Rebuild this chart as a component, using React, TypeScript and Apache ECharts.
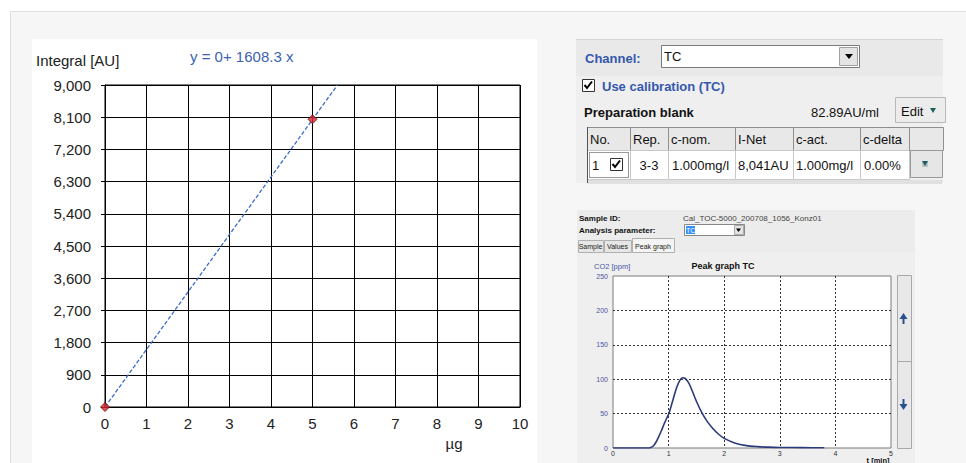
import React, { useEffect, useRef } from "react";
import * as echarts from "echarts";

// ---- data ----
const calibX = [0, 5];
const calibY = [0, 8041];
const fitX = [0, 5.6];
const fitY = [0, 9000];
const equationText = "y = 0+ 1608.3 x";
const leftXTicks = { min: 0, max: 10, step: 1 };
const leftYTicks = { min: 0, max: 9000, step: 900 };

const peakT = [0, 0.5, 0.62, 0.67, 0.72, 0.77, 0.82, 0.87, 0.92, 0.97, 1.0, 1.05, 1.1, 1.15, 1.2, 1.25, 1.3, 1.35, 1.4, 1.5, 1.6, 1.7, 1.8, 1.9, 2.0, 2.2, 2.4, 2.6, 2.8, 3.0, 3.4, 3.8];
const peakV = [0, 0, 0, 0.5, 2.5, 8, 16, 25, 35, 44, 49, 62, 76, 89, 98, 102, 101, 96, 88, 68, 51, 38, 28, 20, 14, 7, 3.5, 2, 1.2, 0.8, 0.5, 0.3];

const tableHeaders = ["No.", "Rep.", "c-nom.", "I-Net", "c-act.", "c-delta", ""];
const tableRow = ["1", "3-3", "1.000mg/l", "8,041AU", "1.000mg/l", "0.00%"];
const channelValue = "TC";
const blankValue = "82.89AU/ml";
const sampleId = "Cal_TOC-5000_200708_1056_Konz01";
const tabs = ["Sample", "Values", "Peak graph"];

const F = "Liberation Sans, Arial, sans-serif";

function txt(x: number, y: number, s: string, size: number, o: any = {}) {
  return {
    type: "text",
    x,
    y,
    z: 20,
    style: {
      text: s,
      font: `${o.bold ? "bold " : ""}${size}px ${F}`,
      fill: o.color || "#111",
      textAlign: o.align || "left",
      textVerticalAlign: "middle",
    },
  };
}
function rect(x: number, y: number, w: number, h: number, fill: string, stroke?: string, z = 1, extra: any = {}) {
  return {
    type: "rect",
    z,
    shape: { x, y, width: w, height: h },
    style: { fill, stroke: stroke || null, lineWidth: 1, ...extra },
  };
}
function poly(points: number[][], fill: string, z = 21) {
  return { type: "polygon", z, shape: { points }, style: { fill } };
}
function check(x: number, y: number) {
  return {
    type: "polyline",
    z: 22,
    shape: { points: [[x + 2.5, y + 6], [x + 5, y + 9], [x + 10, y + 2.5]] },
    style: { stroke: "#000", lineWidth: 2, fill: null },
  };
}

export default function App() {
  const ref = useRef<HTMLDivElement>(null);
  useEffect(() => {
    if (!ref.current) return;
    const chart = echarts.init(ref.current, null, { renderer: "svg" });

    const colEdges = [587, 630, 668, 735, 793, 860, 909, 943];
    const g: any[] = [];
    // page frame
    g.push(rect(10.5, 11.5, 980, 470, "#f6f6f6", "#e0e0e0", 0));
    g.push(rect(32, 39, 505, 440, "#ffffff", undefined, 0));
    // left chart texts
    g.push(txt(36, 60, "Integral [AU]", 15, { color: "#222" }));
    g.push(txt(190, 56, equationText, 15, { color: "#3d62b3" }));
    g.push(txt(454, 443, "µg", 15, { color: "#222", align: "center" }));

    // right top panel
    g.push(rect(576, 39, 367, 144, "#efefef", undefined, 0));
    g.push(rect(576, 39, 367, 37, "#e9e9e9", undefined, 0));
    g.push({ type: "line", z: 1, shape: { x1: 576, y1: 39.5, x2: 943, y2: 39.5 }, style: { stroke: "#d4d4d4" } });
    g.push(txt(585, 58, "Channel:", 13, { bold: true, color: "#3558ae" }));
    g.push(rect(661.5, 45.5, 198, 22, "#ffffff", "#7a7a7a", 5));
    g.push(txt(664, 56, channelValue, 13));
    g.push(rect(839.5, 47.5, 18, 18, "#e4e4e4", "#a0a0a0", 6));
    g.push(poly([[845, 54], [853, 54], [849, 59]], "#000"));
    g.push(rect(582.5, 79.5, 12, 12, "#ffffff", "#333", 6));
    g.push(check(582, 79));
    g.push(txt(602, 86, "Use calibration (TC)", 13, { bold: true, color: "#3558ae" }));
    g.push(txt(584, 112, "Preparation blank", 13, { bold: true }));
    g.push(txt(811, 112, blankValue, 13));
    g.push(rect(895.5, 97.5, 50, 25, "#ececec", "#b8b8b8", 5));
    g.push(txt(901, 111, "Edit", 13));
    g.push(poly([[930, 108], [936, 108], [933, 113]], "#1f5e5e"));
    // table
    for (let i = 0; i < colEdges.length - 1; i++) {
      const x0 = colEdges[i], x1 = colEdges[i + 1];
      g.push(rect(x0 + 0.5, 127.5, x1 - x0, 23, "#e8e8e8", "#8f8f8f", 5));
      if (tableHeaders[i]) g.push(txt(x0 + 3, 139, tableHeaders[i], 13));
      if (i < colEdges.length - 2) {
        g.push(rect(x0 + 0.5, 150.5, x1 - x0, 29, "#ffffff", "#c8c8c8", 5));
      }
    }
    g.push(rect(587.5, 180, 355, 4, "#e0e0e0", undefined, 5));
    g.push({ type: "line", z: 7, shape: { x1: 587.5, y1: 127, x2: 587.5, y2: 183 }, style: { stroke: "#555" } });
    g.push(rect(589.5, 152.5, 39, 25, "none", "#333", 7, { lineDash: [1, 1] }));
    g.push(txt(592, 165, tableRow[0], 13));
    g.push(rect(610.5, 158.5, 12, 12, "#ffffff", "#333", 8));
    g.push(check(610, 158));
    g.push(txt(649, 165, tableRow[1], 13, { align: "center" }));
    g.push(txt(672, 165, tableRow[2], 13));
    g.push(txt(738, 165, tableRow[3], 13));
    g.push(txt(796, 165, tableRow[4], 13));
    g.push(txt(864, 165, tableRow[5], 13));
    g.push(rect(910.5, 150.5, 32, 27, "#e6e6e6", "#9a9a9a", 5));
    g.push(rect(922, 161, 6, 6, "#b9c4c4", undefined, 6));
    g.push(poly([[922, 161], [928, 161], [925, 166]], "#1f5e5e"));

    // lower panel
    g.push(rect(577, 210, 338, 260, "#ececec", undefined, 0));
    g.push(rect(577, 252, 338, 220, "#efefef", undefined, 0));
    g.push(txt(579, 218, "Sample ID:", 8, { bold: true }));
    g.push(txt(683, 218, sampleId, 8, { color: "#444" }));
    g.push(txt(579, 230, "Analysis parameter:", 8, { bold: true }));
    g.push(rect(684.5, 224.5, 60, 11, "#ffffff", "#888", 5));
    g.push(rect(686, 226, 9, 8, "#3390ff", undefined, 6));
    g.push(txt(686, 230, channelValue, 7, { color: "#fff" }));
    g.push(rect(734.5, 225.5, 9, 9, "#e4e4e4", "#aaa", 6));
    g.push(poly([[736, 228.5], [741, 228.5], [738.5, 232]], "#000"));
    const tabX = [578, 604, 632, 675];
    tabs.forEach((t, i) => {
      const active = i === tabs.length - 1;
      g.push(rect(tabX[i] + 0.5, active ? 238.5 : 240.5, tabX[i + 1] - tabX[i] - 1, active ? 14 : 12, active ? "#f4f4f4" : "#e6e6e6", "#b0b0b0", 5));
      g.push(txt((tabX[i] + tabX[i + 1]) / 2 - 0.5, 246, t, 7, { align: "center", color: "#222" }));
    });
    g.push(txt(594, 266, "CO2 [ppm]", 7.5, { color: "#4a55a0" }));
    g.push(txt(723, 266, "Peak graph TC", 9, { bold: true, align: "center" }));
    g.push(txt(878, 460, "t [min]", 7.5, { bold: true, align: "center" }));
    g.push(rect(897.5, 275.5, 14, 86, "#e8e8e8", "#a8a8a8", 5));
    g.push(rect(897.5, 361.5, 14, 87, "#e8e8e8", "#a8a8a8", 5));
    g.push(poly([[899.5, 319], [903.5, 313], [907.5, 319]], "#2a4f8f"));
    g.push(rect(902.5, 319, 2, 5, "#2a4f8f", undefined, 21));
    g.push(poly([[899.5, 404], [903.5, 410], [907.5, 404]], "#2a4f8f"));
    g.push(rect(902.5, 399, 2, 5, "#2a4f8f", undefined, 21));

    const option: any = {
      animation: false,
      backgroundColor: "#ffffff",
      textStyle: { fontFamily: F },
      graphic: { elements: g },
      grid: [
        { left: 105, right: 446, top: 85, bottom: 56, show: true, borderColor: "#000", borderWidth: 1, backgroundColor: "transparent", z: 2 },
        { left: 613, right: 75, top: 276, bottom: 15, show: true, borderColor: "#7a7a7a", borderWidth: 1, backgroundColor: "#ffffff", z: 2 },
      ],
      xAxis: [
        {
          gridIndex: 0, type: "value", min: leftXTicks.min, max: leftXTicks.max, interval: leftXTicks.step, z: 3,
          axisLine: { show: true, lineStyle: { color: "#000" } },
          axisTick: { show: false },
          splitLine: { show: true, lineStyle: { color: "#000", width: 1 } },
          axisLabel: { color: "#222", fontSize: 15, fontFamily: F, margin: 9 },
        },
        {
          gridIndex: 1, type: "value", min: 0, max: 5, interval: 1, z: 3,
          axisLine: { show: false }, axisTick: { show: false },
          splitLine: { show: true, showMinLine: false, showMaxLine: false, lineStyle: { color: "#333", type: [2, 2], width: 1 } },
          axisLabel: { color: "#333", fontSize: 7, fontFamily: F, margin: 2 },
        },
      ],
      yAxis: [
        {
          gridIndex: 0, type: "value", min: leftYTicks.min, max: leftYTicks.max, interval: leftYTicks.step, z: 3,
          axisLine: { show: true, lineStyle: { color: "#000" } },
          axisTick: { show: true, length: 4, lineStyle: { color: "#000" } },
          splitLine: { show: true, lineStyle: { color: "#000", width: 1 } },
          axisLabel: { color: "#222", fontSize: 15, fontFamily: F, margin: 14, formatter: (v: number) => v.toLocaleString("en-US") },
        },
        {
          gridIndex: 1, type: "value", min: 0, max: 250, interval: 50, z: 3,
          axisLine: { show: false }, axisTick: { show: false },
          splitLine: { show: true, showMinLine: false, showMaxLine: false, lineStyle: { color: "#333", type: [2, 2], width: 1 } },
          axisLabel: { color: "#4a55a0", fontSize: 7, fontFamily: F, margin: 5 },
        },
      ],
      series: [
        {
          type: "line", xAxisIndex: 0, yAxisIndex: 0, z: 4, symbol: "none",
          data: fitX.map((x, i) => [x, fitY[i]]),
          lineStyle: { color: "#3a6cc4", width: 1.3, type: [4, 2] },
        },
        {
          type: "scatter", xAxisIndex: 0, yAxisIndex: 0, z: 5, symbol: "diamond", symbolSize: 9,
          data: calibX.map((x, i) => [x, calibY[i]]),
          itemStyle: { color: "#d8232b", borderColor: "#5a1010", borderWidth: 1 },
        },
        {
          type: "line", xAxisIndex: 1, yAxisIndex: 1, z: 4, symbol: "none", smooth: 0.3,
          data: peakT.map((t, i) => [t, peakV[i]]),
          lineStyle: { color: "#2b3a7a", width: 1.6 },
        },
      ],
    };
    chart.setOption(option);
    return () => chart.dispose();
  }, []);
  return <div ref={ref} style={{ position: "fixed", left: 0, top: 0, width: 966, height: 463 }} />;
}
